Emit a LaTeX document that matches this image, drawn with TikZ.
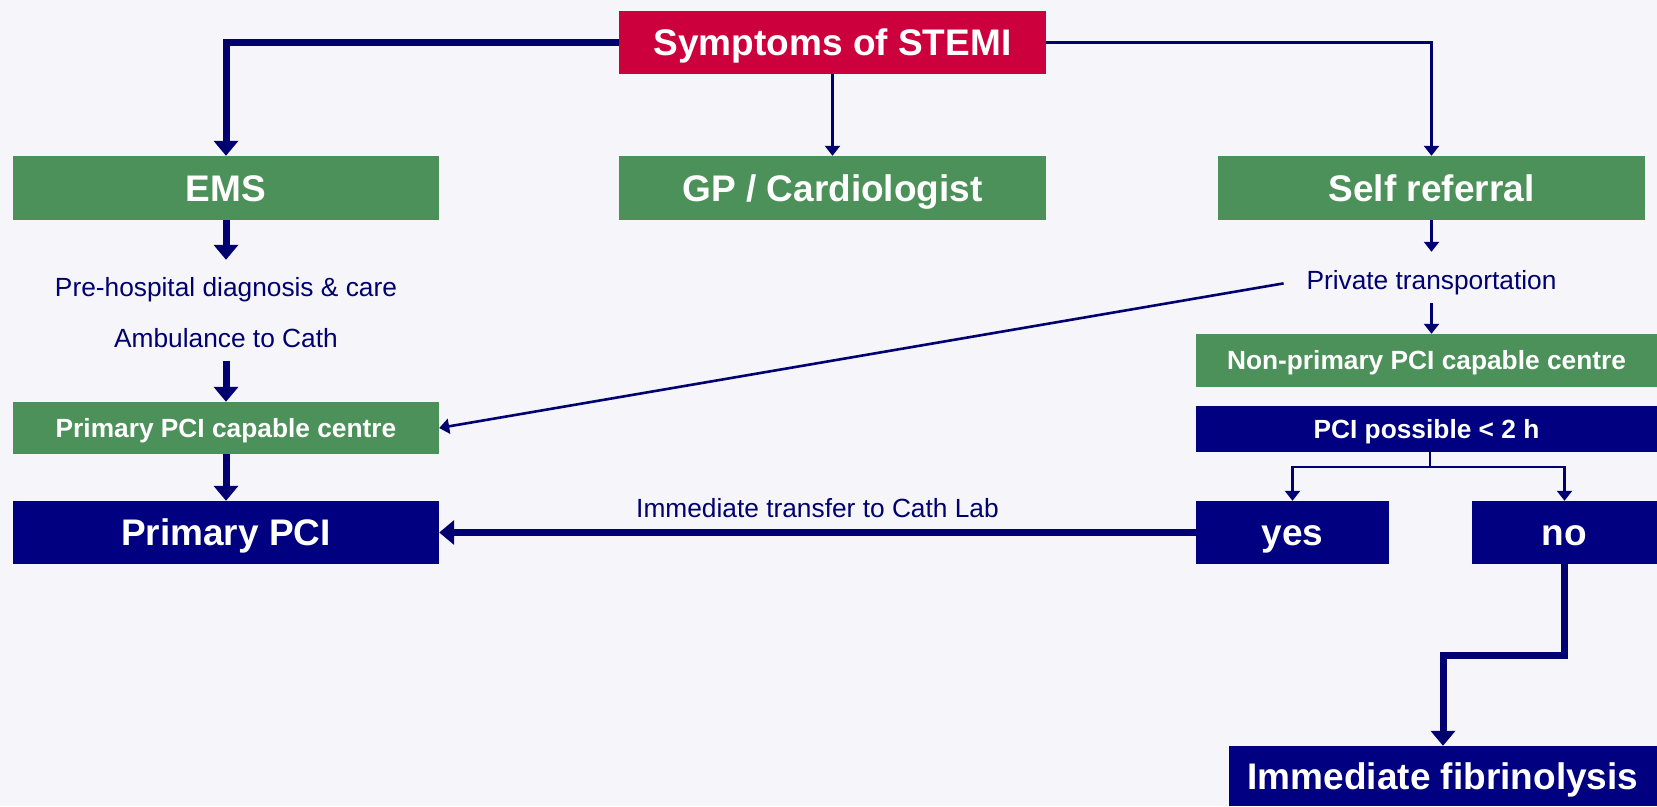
\documentclass[tikz,border=0pt]{standalone}
\usepackage{fontspec}
\setmainfont{Liberation Sans}
\usepackage{tikz}
\usetikzlibrary{positioning, arrows.meta}

\definecolor{stemired}{HTML}{CC003D}
\definecolor{boxgreen}{HTML}{4D915A}
\definecolor{boxnavy}{HTML}{000080}
\definecolor{linenavy}{HTML}{000070}
\definecolor{bgpaper}{HTML}{F5F5FA}

\begin{document}
\begin{tikzpicture}[x=1pt, y=-1pt,
  bigbox/.style={inner sep=0pt, text=white, font=\fontsize{37}{44}\selectfont\bfseries, text height=26.5pt, text depth=0pt, minimum height=63pt},
  smallbox/.style={inner sep=0pt, text=white, font=\fontsize{26.3}{31}\selectfont\bfseries, text height=18.8pt, text depth=0pt},
  note/.style={inner sep=3pt, text=linenavy, font=\fontsize{26.3}{31}\selectfont, text height=19pt, text depth=0pt},
  fatarrow/.style={draw=linenavy, line width=7pt, -{Triangle[width=24pt,length=15pt]}},
  thinarrow/.style={draw=linenavy, line width=2.2pt, -{Triangle[width=15pt,length=10pt]}}]
% page and background
\useasboundingbox (0,0) rectangle (1657,806);
\fill[bgpaper] (0,0) rectangle (1657,806);

% top row
\node[bigbox, fill=stemired, minimum width=427pt] (sym) at (832.5,42.5) {Symptoms of STEMI};
\node[bigbox, fill=boxgreen, minimum width=426pt, minimum height=64pt] (ems) at (226,188) {EMS};
\node[bigbox, fill=boxgreen, minimum width=427pt, minimum height=64pt] (gp) at (832.5,188) {GP / Cardiologist};
\node[bigbox, fill=boxgreen, minimum width=427pt, minimum height=64pt] (self) at (1431.5,188) {Self referral};

% EMS branch
\node[note] (pre) at (226,287) {Pre-hospital diagnosis \& care};
\node[note] (amb) at (226,338) {Ambulance to Cath};
\node[smallbox, fill=boxgreen, minimum width=426pt, minimum height=52pt] (primcentre) at (226,428) {Primary PCI capable centre};
\node[bigbox, fill=boxnavy, minimum width=426pt] (primpci) at (226,532.5) {Primary PCI};

% self referral branch
\node[note] (private) at (1431.5,280) {Private transportation};
\node[smallbox, fill=boxgreen, minimum width=461pt, minimum height=53pt] (nonprim) at (1426.5,360.5) {Non-primary PCI capable centre};
\node[smallbox, fill=boxnavy, minimum width=461pt, minimum height=46pt] (possible) at (1426.5,429) {PCI possible < 2 h};
\node[bigbox, fill=boxnavy, minimum width=193pt] (yes) at (1292.5,532.5) {yes};
\node[bigbox, fill=boxnavy, minimum width=185pt] (no) at (1564.5,532.5) {no};
\node[bigbox, fill=boxnavy, minimum width=428pt, minimum height=60pt] (fibrin) at (1443,776) {Immediate fibrinolysis};

\coordinate (split) at (1430,467);
\coordinate (bend) at (1564.5,655);

% connectors
\draw[fatarrow] (sym.west) -| (ems.north);
\draw[thinarrow] (sym.south) -- (gp.north);
\draw[thinarrow, line width=2.6pt] (sym.east) -| (self.north);
\draw[fatarrow, shorten >=14.5pt] (ems.south) -- (pre.north);
\draw[fatarrow, shorten <=10pt] (amb.south) -- (primcentre.north);
\draw[fatarrow] (primcentre.south) -- (primpci.north);
\draw[thinarrow, shorten >=15.5pt] (self.south) -- (private.north);
\draw[thinarrow, line width=2.6pt, shorten <=20pt] (private.west) -- (primcentre.east);
\draw[thinarrow, shorten <=10.5pt] (private.south) -- (private.south |- nonprim.north);
\draw[thinarrow] (split |- possible.south) -- (split) -| (yes.north);
\draw[thinarrow] (split) -| (no.north);
\draw[fatarrow] (yes.west) -- node[note, above=9pt] (transfer) {Immediate transfer to Cath Lab} (primpci.east);
\draw[fatarrow] (no.south) -- (bend) -| (fibrin.north);
\end{tikzpicture}
\end{document}
